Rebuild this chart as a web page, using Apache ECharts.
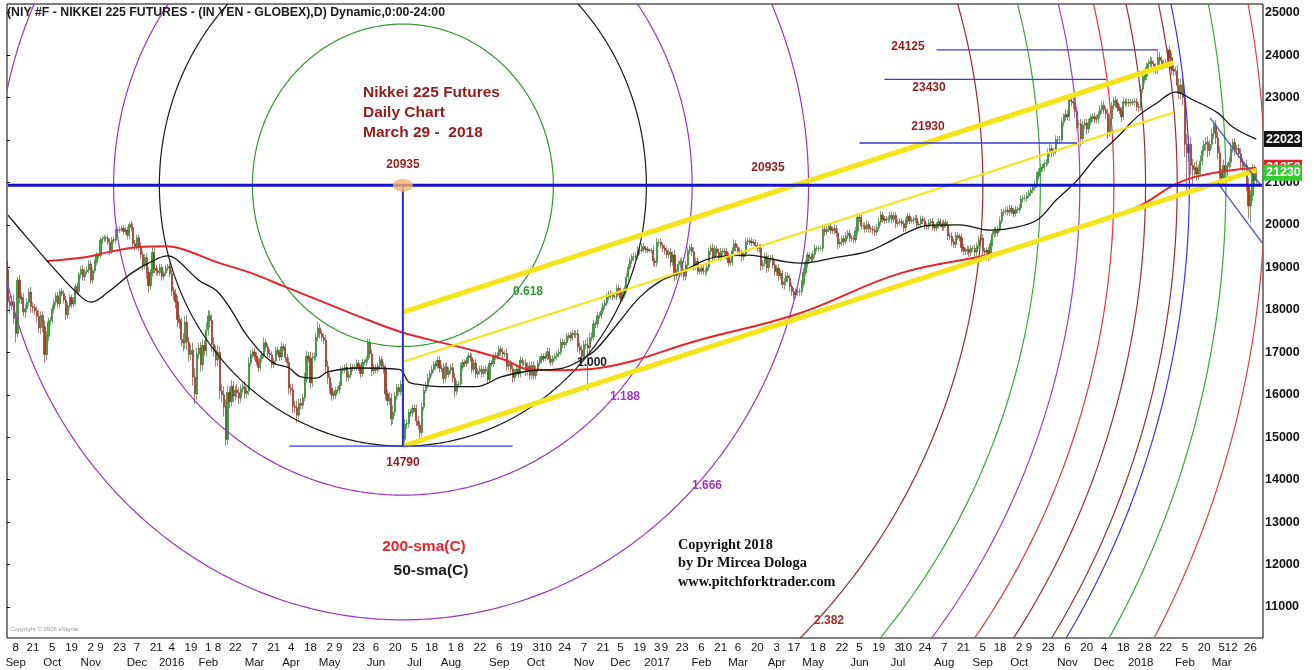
<!DOCTYPE html>
<html><head><meta charset="utf-8">
<script src="https://cdn.jsdelivr.net/npm/echarts/dist/echarts.min.js"></script>
<style>html,body{margin:0;padding:0;background:#fff}#c{width:1314px;height:670px}</style>
</head><body><div id="c"></div>
<script>
// ---------------- calendar ----------------
const START_DAY = '2015-09-01', END_DAY = '2018-04-04';
const HOLIDAYS = ['2015-09-07','2015-11-26','2015-12-25','2016-01-01','2016-01-18','2016-02-15','2016-03-25','2016-05-30','2016-07-04','2016-09-05','2016-11-24','2016-12-26','2017-01-02','2017-01-16','2017-02-20','2017-04-14','2017-05-29','2017-07-04','2017-09-04','2017-11-23','2017-12-25','2018-01-01','2018-01-15','2018-02-19','2018-03-30'];

// ---------------- daily closes (yen), one row per month ----------------
const OPEN_FIRST = 18950;
const CLOSE_2015 = [
 [18200,18100,18180,17800,17450,18700,18300,18250,17950,18030,18180,18420,18080,18050,17980,17850,17580,17870,17600,16950,17380],
 [17720,17750,18020,18180,18330,18140,18430,18380,18230,17880,18100,18290,18140,18200,18550,18430,18830,18950,18780,18900,18940,19080],
 [18700,18920,19120,19270,19280,19640,19670,19700,19690,19590,19390,19650,19640,19860,19880,19900,19920,19850,19880,19750],
 [20010,19940,19560,19500,19700,19490,19300,19050,19230,18880,18570,18870,19350,18980,18920,18880,19000,18790,18870,18980,19030,18850]
];
const CLOSE_2016 = [
 [18450,18370,18190,17770,17700,17300,17220,17710,17240,16950,17050,16420,16020,16960,17100,16710,17160,17040,17520],
 [17860,17750,17190,17040,16820,17000,16090,16000,15710,14950,16050,15840,16200,15970,16110,16050,15920,16140,16190,16030],
 [16090,16750,16960,17010,16910,16780,16640,16850,16940,17230,17120,16970,16940,16720,16800,17050,17000,16890,17130,17100,16880,16760],
 [16160,16120,15730,15700,15520,15800,15750,15930,16380,16910,16850,16280,16870,16900,17360,17570,17440,17350,17290,16660,16400],
 [16150,16000,15990,16100,16110,16220,16570,16580,16650,16410,16470,16650,16640,16650,16740,16650,16500,16760,16770,16830,17230],
 [16960,16560,16640,16580,16680,16830,16670,16600,16020,15860,15920,15430,15600,15970,16170,16070,16240,14950,15310,15320,15570,15580],
 [15680,15670,15380,15280,15110,15710,16100,16230,16390,16500,16600,16720,16680,16810,16630,16620,16380,16660,16480,16570],
 [16640,16390,16080,16250,16250,16650,16760,16740,16800,16920,16870,16600,16750,16490,16550,16600,16500,16600,16560,16360,16740,16730,16890],
 [16930,16920,17080,17010,16960,16970,16670,16730,16610,16400,16520,16600,16490,16810,16750,16750,16540,16680,16460,16690,16450],
 [16600,16740,16820,16900,16860,16900,17020,16840,16770,16860,16900,16960,17000,17240,17180,17230,17370,17390,17340,17450,17420],
 [17440,17130,17050,16900,17180,17170,17100,17340,17370,17670,17670,17860,17860,17970,18100,18160,18300,18380,18350,18310,18310],
 [18510,18430,18270,18360,18500,18770,19000,19160,19250,19250,19270,19400,19390,19490,19440,19430,19400,19400,19400,19150,19110]
];
const CLOSE_2017 = [
 [19590,19590,19520,19450,19400,19300,19360,19130,19290,18810,18890,19070,19140,18890,18790,19060,19400,19470,19370,19040],
 [19150,18910,18920,18980,18910,18910,19010,19380,19460,19240,19440,19350,19230,19380,19380,19370,19280,19110,19120],
 [19390,19560,19470,19380,19340,19250,19320,19600,19630,19610,19580,19590,19520,19460,19450,19040,19090,19260,18990,19200,19220,19060,18910],
 [18980,18810,18860,18600,18660,18800,18750,18550,18430,18350,18420,18430,18430,18620,18880,19080,19290,19250,19200],
 [19310,19450,19450,19450,19450,19900,19840,19900,19960,19880,19870,19920,19810,19550,19590,19680,19610,19740,19810,19690,19680,19650],
 [19860,20180,20170,19980,19980,19910,20010,19910,19900,19880,19830,19940,20070,20230,20140,20110,20130,20150,20230,20130,20220,20030],
 [20060,20080,20030,19930,20080,20200,20100,20100,20120,20150,20000,20020,20140,20100,19980,19960,20050,20080,19960,19930],
 [19990,20080,20030,19950,20060,20000,19740,19730,19600,19540,19750,19730,19700,19470,19390,19380,19430,19350,19450,19450,19360,19510,19650],
 [19690,19380,19360,19400,19270,19550,19780,19870,19810,19910,20100,20300,20310,20350,20300,20400,20330,20270,20360,20360],
 [20400,20610,20630,20630,20690,20750,20820,20880,20950,21150,21250,21340,21360,21450,21460,21700,21800,21710,21740,22010,22010,22010],
 [22420,22540,22600,22550,22940,22910,22870,22680,22380,22380,22030,22350,22400,22260,22420,22520,22550,22500,22490,22600,22720],
 [22820,22710,22620,22180,22500,22810,22940,22870,22760,22690,22550,22900,22870,22890,22870,22900,22890,22910,22780,22770]
];
const CLOSE_2018 = [
 [23200,23420,23510,23710,23800,23850,23790,23710,23650,23950,23870,23760,23810,23820,24120,23940,23670,23630,23630,23290,23100],
 [23300,23000,21900,21700,21900,21400,21300,21350,21200,21300,21500,21750,21900,21950,21750,21900,22150,22350,22050],
 [21700,21200,21100,21400,21250,21370,21480,21800,21950,21770,21800,21680,21480,21380,21400,20950,20450,20700,21300,21050,21230]
];
// upper / lower wick lengths (tens of yen beyond the candle body)
const HI_2015 = [
 [20,12,15,18,10,8,12,10,14,10,9,8,12,10,8,10,14,9,10,15,12],
 [10,8,9,7,8,10,6,8,9,10,7,8,6,9,7,10,6,8,10,7,8,9],
 [8,6,7,9,5,8,6,7,5,8,9,6,7,5,6,7,5,8,6,7],
 [6,8,10,9,7,8,10,9,8,10,12,9,14,10,8,7,9,8,6,7,5,8]
];
const LO_2015 = [
 [15,18,12,14,22,10,15,12,10,14,9,10,15,12,10,14,12,15,12,20,14],
 [12,9,8,10,8,7,9,6,8,12,9,7,10,8,9,6,7,8,9,10,6,8],
 [9,8,6,7,8,6,9,7,8,6,10,7,6,8,5,7,6,8,7,9],
 [8,9,12,10,8,10,9,12,10,14,16,10,9,12,10,8,7,10,8,6,7,9]
];
const HI_2016 = [
 [10,9,12,14,10,12,15,14,16,12,14,18,20,15,12,14,16,12,18],
 [14,12,15,16,12,18,14,16,20,18,16,14,15,12,10,14,12,10,9,12],
 [10,12,9,8,10,9,8,10,9,12,8,9,10,8,7,9,8,7,10,8,9,8],
 [12,10,14,12,16,10,12,9,14,12,10,16,12,9,10,15,10,8,9,12,14],
 [10,12,8,9,8,10,9,8,7,10,8,9,7,8,9,8,7,9,6,8,9],
 [8,10,9,8,7,9,8,10,12,10,14,12,16,10,9,8,10,10,12,10,9,8],
 [9,8,10,12,10,12,9,8,10,8,9,7,8,9,10,8,12,9,10,8],
 [8,10,12,9,8,10,8,7,9,8,7,10,8,9,7,8,9,7,8,10,8,7,8],
 [8,7,9,8,10,8,12,9,8,10,9,8,9,10,8,7,9,8,10,9,10],
 [8,7,9,8,7,8,9,8,10,7,8,7,8,9,8,7,8,7,9,8,7],
 [8,10,9,12,10,12,18,12,10,9,8,10,8,9,7,8,9,7,8,6,8],
 [9,8,10,7,8,10,9,8,7,9,8,10,7,8,9,7,6,5,6,10,8]
];
const LO_2016 = [
 [12,14,16,18,14,16,20,14,18,16,14,20,24,14,12,16,14,12,14],
 [12,16,18,14,16,14,20,18,22,16,14,16,12,14,10,12,14,10,9,12],
 [12,10,9,10,8,9,10,8,9,8,10,9,8,10,9,8,7,9,8,7,10,9],
 [14,12,16,14,18,12,10,9,8,10,9,14,10,8,9,10,12,9,10,16,14],
 [12,14,10,9,8,9,10,8,7,10,9,8,9,7,8,9,10,8,7,9,8],
 [10,12,9,8,7,9,8,10,14,12,10,16,12,10,9,8,9,16,14,12,10,9],
 [10,8,12,10,14,9,8,7,8,9,7,8,9,7,10,8,12,9,10,8],
 [9,10,14,9,8,7,8,9,7,8,9,10,8,10,9,8,9,8,7,10,8,7,8],
 [8,9,7,8,9,8,10,9,8,12,9,8,10,8,9,7,10,8,10,9,10],
 [9,8,7,8,9,7,8,10,9,8,7,8,9,7,8,9,7,8,9,7,8],
 [9,12,10,12,9,10,100,10,9,8,10,9,8,7,8,9,7,8,9,8,7],
 [8,9,10,8,7,8,9,7,8,9,7,8,9,7,8,9,6,5,7,12,10]
];
const HI_2017 = [
 [10,8,9,7,8,9,8,10,9,12,8,9,7,10,8,9,8,7,9,10],
 [8,9,7,8,9,7,8,9,8,10,8,7,9,8,7,8,9,7,8],
 [9,10,8,7,9,8,7,9,8,7,9,8,7,8,9,10,8,9,8,9,7,8,9],
 [8,10,9,8,9,10,8,9,8,9,8,7,8,9,10,9,8,7,8],
 [8,9,6,5,6,10,8,9,8,7,8,9,8,10,8,7,8,9,7,8,7,8],
 [9,10,8,7,8,7,9,8,7,8,9,8,9,10,8,7,8,7,9,8,7,8],
 [7,8,7,8,9,8,7,8,7,8,9,7,8,7,8,7,8,7,8,7],
 [7,8,7,8,7,8,10,8,9,8,9,8,7,9,8,7,8,7,8,7,9,8,9],
 [8,9,8,7,9,10,8,9,8,7,9,8,7,8,9,8,7,8,9,8],
 [9,8,7,8,9,8,7,8,9,10,8,9,8,7,9,10,12,9,8,10,9,8],
 [10,9,12,10,14,12,16,12,10,9,12,10,9,10,8,9,8,10,9,8,10],
 [9,10,8,12,10,9,8,9,10,8,9,10,8,9,8,7,6,7,8,9]
];
const LO_2017 = [
 [9,10,8,9,10,8,9,12,10,14,10,8,9,12,10,9,8,9,10,12],
 [10,9,8,9,8,9,10,8,9,10,9,8,9,8,9,8,10,9,8],
 [8,9,10,8,9,10,8,7,8,9,8,7,8,9,10,12,9,8,12,9,8,9,10],
 [10,12,9,10,12,9,10,12,10,9,8,9,10,8,9,8,9,10,8],
 [9,8,7,6,5,9,10,8,7,9,8,9,10,12,9,8,9,7,8,9,8,9],
 [8,9,10,9,8,9,8,9,8,10,9,8,7,8,9,8,7,9,8,9,8,10],
 [8,7,8,9,8,7,8,7,8,7,9,8,7,8,9,8,7,8,9,8],
 [8,7,8,9,8,7,10,9,10,8,9,8,9,12,10,9,8,10,9,8,10,9,8],
 [9,10,9,8,12,8,7,8,9,8,7,8,9,7,8,9,8,9,7,8],
 [8,7,8,7,8,7,8,7,8,7,8,7,8,9,8,7,9,12,9,8,10,9],
 [9,10,8,9,10,12,14,16,12,10,18,12,10,12,9,8,9,10,9,10,9],
 [10,9,12,16,10,8,9,10,9,8,12,8,9,8,9,8,7,8,9,10]
];
const HI_2018 = [
 [10,12,14,12,10,12,10,9,10,14,12,10,9,10,4,10,12,10,9,14,16],
 [14,16,20,24,18,16,15,14,16,12,14,12,10,12,14,10,12,8,12],
 [14,16,12,14,12,10,12,14,8,10,9,10,12,10,9,14,16,12,14,12,10]
];
const LO_2018 = [
 [8,10,9,10,12,9,10,12,9,10,12,10,9,10,12,10,14,12,10,20,14],
 [14,18,30,100,20,22,40,18,16,14,12,10,12,14,16,12,10,12,14],
 [16,18,20,14,16,12,10,12,10,14,12,10,14,12,10,16,30,40,14,16,12]
];

// ---------------- moving averages ----------------
const SMA50 = [['2015-09-01',20230],['2015-09-15',19750],['2015-10-01',19120],['2015-10-22',18390],['2015-11-02',18180],['2015-11-13',18420],['2015-12-02',18860],['2015-12-15',19100],['2015-12-30',19270],['2016-01-07',19170],['2016-01-25',18700],['2016-02-05',18460],['2016-02-18',17990],['2016-03-01',17400],['2016-03-18',16770],['2016-04-01',16630],['2016-04-11',16420],['2016-04-21',16390],['2016-04-29',16540],['2016-05-23',16630],['2016-06-22',16600],['2016-06-29',16300],['2016-07-06',16250],['2016-07-22',16190],['2016-08-18',16190],['2016-09-07',16420],['2016-09-27',16560],['2016-10-21',16630],['2016-11-10',16950],['2016-11-17',17150],['2016-12-02',17700],['2016-12-19',18300],['2017-01-04',18660],['2017-01-19',18860],['2017-02-16',19250],['2017-03-14',19290],['2017-03-27',19220],['2017-04-10',19130],['2017-04-21',19100],['2017-05-15',19220],['2017-06-09',19370],['2017-06-23',19570],['2017-07-12',19850],['2017-07-26',19990],['2017-08-17',20000],['2017-09-11',19880],['2017-09-25',19920],['2017-10-13',20110],['2017-10-27',20580],['2017-11-13',21050],['2017-11-28',21600],['2017-12-13',22070],['2017-12-28',22540],['2018-01-16',22890],['2018-01-29',23130],['2018-02-09',22950],['2018-03-01',22640],['2018-03-13',22300],['2018-03-29',22023]];
const SMA200 = [['2015-09-30',19150],['2015-10-28',19240],['2015-11-13',19360],['2015-12-08',19480],['2015-12-29',19500],['2016-01-13',19410],['2016-02-05',19130],['2016-03-03',18870],['2016-03-30',18540],['2016-04-29',18140],['2016-05-31',17760],['2016-06-23',17480],['2016-07-22',17240],['2016-08-16',17050],['2016-09-09',16820],['2016-09-27',16600],['2016-10-21',16580],['2016-11-17',16630],['2017-02-03',17290],['2017-04-20',17920],['2017-07-05',18860],['2017-09-15',19350],['2017-11-07',19880],['2017-12-28',20420],['2018-01-30',20980],['2018-02-26',21220],['2018-03-29',21350]];

// ---------------- drawing annotations (date, price) ----------------
const PIVOT = ['2016-06-24', 20935];
const ARC_RATIOS = [0.618, 1.0, 1.188, 1.666, 2.382, 2.618, 2.78, 2.92, 3.05, 3.18, 3.23, 3.38, 3.54];
const ARC_BASE_PRICE = 6145;   // 20935 - 14790
const ARC_BASE_BARS = 126.4;   // horizontal radius of the 1.000 circle, in bars
const FORK_LOW   = [['2016-06-24',14790],['2018-03-29',21294]];
const FORK_MID   = [['2016-06-24',16778],['2018-01-26',22650]];
const FORK_HIGH  = [['2016-06-24',17949],['2018-01-26',23821]];
const H_20935 = [['2015-09-01',20935],['2018-04-04',20935]];
const V_PIVOT = [['2016-06-24',20935],['2016-06-24',14790]];
const H_14790 = [['2016-04-01',14790],['2016-09-15',14790]];
const H_24125 = [['2017-08-01',24125],['2018-01-16',24125]];
const H_23430 = [['2017-06-22',23430],['2017-12-05',23430]];
const H_21930 = [['2017-06-05',21930],['2017-11-13',21930]];
const CH_UP = [['2018-02-23',22520],['2018-04-04',20898]];
const CH_DN = [['2018-03-01',20988],['2018-04-04',19583]];
const LAST_LABELS = [[22023,'22023'],[21350,'21350'],[21230,'21230']];

// ---------------- axis tick labels ----------------
const TICK_DATES = ['2015-09-08','2015-09-21','2015-10-05','2015-10-19','2015-11-02','2015-11-09','2015-11-23','2015-12-07','2015-12-21','2016-01-04','2016-01-19','2016-02-01','2016-02-08','2016-02-22','2016-03-07','2016-03-21','2016-04-04','2016-04-18','2016-05-02','2016-05-09','2016-05-23','2016-06-06','2016-06-20','2016-07-05','2016-07-18','2016-08-01','2016-08-08','2016-08-22','2016-09-06','2016-09-19','2016-10-03','2016-10-10','2016-10-24','2016-11-07','2016-11-21','2016-12-05','2016-12-19','2017-01-03','2017-01-09','2017-01-23','2017-02-06','2017-02-21','2017-03-06','2017-03-20','2017-04-03','2017-04-17','2017-05-01','2017-05-08','2017-05-22','2017-06-05','2017-06-19','2017-07-03','2017-07-10','2017-07-24','2017-08-07','2017-08-21','2017-09-05','2017-09-18','2017-10-02','2017-10-09','2017-10-23','2017-11-06','2017-11-20','2017-12-04','2017-12-18','2018-01-02','2018-01-08','2018-01-22','2018-02-05','2018-02-20','2018-03-05','2018-03-12','2018-03-26'];
const MONTH_DATES = ['2015-09-08','2015-10-05','2015-11-02','2015-12-07','2016-01-04','2016-02-01','2016-03-07','2016-04-04','2016-05-02','2016-06-06','2016-07-05','2016-08-01','2016-09-06','2016-10-03','2016-11-07','2016-12-05','2017-01-03','2017-02-06','2017-03-06','2017-04-03','2017-05-01','2017-06-05','2017-07-03','2017-08-07','2017-09-05','2017-10-02','2017-11-06','2017-12-04','2018-01-02','2018-02-05','2018-03-05'];
const MONTH_NAMES = ['Sep','Oct','Nov','Dec','2016','Feb','Mar','Apr','May','Jun','Jul','Aug','Sep','Oct','Nov','Dec','2017','Feb','Mar','Apr','May','Jun','Jul','Aug','Sep','Oct','Nov','Dec','2018','Feb','Mar'];

// ================= build =================
function pad(n){return (n<10?'0':'')+n;}
function tradingDays(a,b){
  const out=[]; const hs=new Set(HOLIDAYS);
  let d=new Date(a+'T00:00:00Z'); const e=new Date(b+'T00:00:00Z');
  while(d<=e){const w=d.getUTCDay(); const s=d.getUTCFullYear()+'-'+pad(d.getUTCMonth()+1)+'-'+pad(d.getUTCDate());
    if(w!==0&&w!==6&&!hs.has(s)) out.push(s); d=new Date(d.getTime()+86400000);}
  return out;
}
const DAYS = tradingDays(START_DAY, END_DAY);
const monthIdx = {}; DAYS.forEach((d,i)=>{const k=d.slice(0,7);(monthIdx[k]=monthIdx[k]||[]).push(i);});
const closeA=[],hiA=[],loA=[];
[[2015,9,CLOSE_2015,HI_2015,LO_2015],[2016,1,CLOSE_2016,HI_2016,LO_2016],[2017,1,CLOSE_2017,HI_2017,LO_2017],[2018,1,CLOSE_2018,HI_2018,LO_2018]]
.forEach(([y,m0,C,H,L])=>C.forEach((vals,mi)=>{
  const idx=monthIdx[y+'-'+pad(m0+mi)]||[];
  vals.forEach((v,j)=>{ if(j<idx.length){closeA[idx[j]]=v;hiA[idx[j]]=H[mi][j]||0;loA[idx[j]]=L[mi][j]||0;} });
}));
let prev=OPEN_FIRST;
const candles = DAYS.map((d,i)=>{const c=closeA[i]; if(c==null) return '-'; const o=prev; prev=c;
  return [o,c,Math.min(o,c)-loA[i]*10,Math.max(o,c)+hiA[i]*10];});

const TICK_SET=new Set(TICK_DATES);
const MONTH_MAP=new Map(MONTH_DATES.map((d,i)=>[d,MONTH_NAMES[i]]));
const ARC_COLORS=['#2f9a2f','#1a1a1a','#9b35c0','#9b35c0','#9a2b2b','#3aa83a','#a040c0','#e03a3a','#9a3030','#9a3030','#3838e0','#3aa83a','#e04040'];
const BOX_COLORS=['#111111','#e02020','#33cc33'];

const F='Liberation Sans, Arial, sans-serif';
const SERIF='Liberation Serif, Times New Roman, serif';
function seg(data,color,width,z){return {type:'line',data:data,symbol:'none',silent:true,z:z||4,lineStyle:{color:color,width:width},xAxisIndex:0,yAxisIndex:0,animation:false};}

const chart=echarts.init(document.getElementById('c'));
chart.setOption({
  animation:false, backgroundColor:'#ffffff',
  grid:[{left:7,right:51,top:4,bottom:32,show:true,borderColor:'#000',borderWidth:1,backgroundColor:'rgba(0,0,0,0)'},
        {left:7,right:51,top:12.7,bottom:63,show:false}],
  xAxis:[
    {type:'category',gridIndex:0,data:DAYS,boundaryGap:true,axisLine:{show:false},axisTick:{show:false},splitLine:{show:false},
     axisLabel:{interval:(i,v)=>TICK_SET.has(v),formatter:v=>String(+v.slice(8)),margin:4,fontSize:11.5,color:'#111',fontFamily:F}},
    {type:'category',gridIndex:0,data:DAYS,position:'bottom',boundaryGap:true,axisLine:{show:false},axisTick:{show:false},splitLine:{show:false},
     axisLabel:{interval:(i,v)=>MONTH_MAP.has(v),formatter:v=>MONTH_MAP.get(v)||'',margin:19,fontSize:11.5,color:'#111',fontFamily:F}},
    {type:'value',gridIndex:1,show:false,min:0,max:1}
  ],
  yAxis:[
    {type:'value',gridIndex:0,min:10270,max:25205,show:false,splitLine:{show:false}},
    {type:'value',gridIndex:1,position:'right',min:11000,max:25000,interval:1000,axisLine:{show:false},
     axisTick:{show:true,length:3,lineStyle:{color:'#000'}},splitLine:{show:false},
     axisLabel:{margin:2,fontSize:12.5,fontWeight:'bold',color:'#111',fontFamily:F,formatter:v=>String(v)}}
  ],
  series:[
    {type:'candlestick',data:candles,xAxisIndex:0,yAxisIndex:0,barWidth:1.7,large:false,silent:true,z:2,
     itemStyle:{color:'#2fae2f',color0:'#d22e1c',borderColor:'#1f6a1f',borderColor0:'#7a2416',borderWidth:0.6}},
    {type:'line',xAxisIndex:2,yAxisIndex:1,data:[],silent:true},
    {type:'custom',xAxisIndex:0,yAxisIndex:0,clip:true,silent:true,z:3,
     data:ARC_RATIOS.map(r=>[PIVOT[0],PIVOT[1],r]),encode:{x:0,y:1},
     renderItem:(params,api)=>{
       const r=api.value(2); const c=api.coord([api.value(0),api.value(1)]);
       const b=api.coord([api.value(0),api.value(1)-ARC_BASE_PRICE*r]);
       const ry=b[1]-c[1]; const rx=ARC_BASE_BARS*r*api.size([1,0])[0];
       const pts=[]; for(let k=0;k<=720;k++){const t=k*Math.PI/360; pts.push([c[0]+rx*Math.cos(t),c[1]+ry*Math.sin(t)]);}
       return {type:'polyline',shape:{points:pts},style:{stroke:ARC_COLORS[params.dataIndex],lineWidth:1.2,fill:null}};
     }},
    Object.assign(seg(SMA200,'#e8262a',2,3),{smooth:0.4}),
    Object.assign(seg(SMA50,'#151515',1.3,3),{smooth:0.4}),
    seg(FORK_LOW,'#f7e418',5),
    seg(FORK_HIGH,'#f7e418',5),
    seg(FORK_MID,'#f7e418',2),
    seg(V_PIVOT,'#2b2bd8',2,5),
    seg(H_14790,'#3a3ae0',1.4,5),
    seg(H_24125,'#3a3ae0',1.4,5),
    seg(H_23430,'#3a3ae0',1.4,5),
    seg(H_21930,'#3a3ae0',1.4,5),
    seg(CH_UP,'#4a4ae0',1.3,5),
    seg(CH_DN,'#4a4ae0',1.3,5),
    seg(H_20935,'#1414cc',3,6),
    {type:'scatter',data:[PIVOT],xAxisIndex:0,yAxisIndex:0,symbol:'circle',symbolSize:[20,13],silent:true,z:7,
     itemStyle:{color:'#f6b46c'}}
  ]
});

const yp=v=>chart.convertToPixel({yAxisIndex:0},v);
function txt(x,y,t,font,fill,align,z){return {type:'text',x:x,y:y,z:z||100,style:{text:t,font:font,fill:fill,textAlign:align||'center',textVerticalAlign:'middle',align:align||'center',verticalAlign:'middle'}};}
const DR='#941c1c';
const g=[
  txt(7,13,'(NIY #F - NIKKEI 225 FUTURES - (IN YEN - GLOBEX),D) Dynamic,0:00-24:00','bold 12.3px '+F,'#1a1a1a','left'),
  txt(363,93,'Nikkei 225 Futures','bold 15.5px '+F,DR,'left'),
  txt(363,113,'Daily Chart','bold 15.5px '+F,DR,'left'),
  txt(363,133,'March 29 -  2018','bold 15.5px '+F,DR,'left'),
  txt(403,165,'20935','bold 12px '+F,DR),
  txt(403,463,'14790','bold 12px '+F,DR),
  txt(768,168,'20935','bold 12px '+F,DR),
  txt(908,47,'24125','bold 12px '+F,DR),
  txt(929,88,'23430','bold 12px '+F,DR),
  txt(928,127,'21930','bold 12px '+F,DR),
  txt(528,292,'0.618','bold 12px '+F,'#2f9a2f'),
  txt(592,363,'1.000','bold 12px '+F,'#1a1a1a'),
  txt(625,397,'1.188','bold 12px '+F,'#9b35c0'),
  txt(707,486,'1.666','bold 12px '+F,'#9b35c0'),
  txt(829,621,'2.382','bold 12px '+F,'#a0302a'),
  txt(424,547,'200-sma(C)','bold 15.5px '+F,'#e02828'),
  txt(431,571,'50-sma(C)','bold 15.5px '+F,'#1a1a1a'),
  txt(678,545,'Copyright 2018','bold 14.3px '+SERIF,'#111','left'),
  txt(678,563,'by Dr Mircea Dologa','bold 14.3px '+SERIF,'#111','left'),
  txt(678,582,'www.pitchforktrader.com','bold 14.3px '+SERIF,'#111','left'),
  txt(10,629,'Copyright \u00a9 2006 eSignal','6px '+F,'#9a9a9a','left')
];
LAST_LABELS.forEach(([v,label],i)=>{const y=yp(v);
  g.push({type:'rect',z:110+2*i,shape:{x:1264,y:y-8,width:38,height:16},style:{fill:BOX_COLORS[i]}});
  g.push(txt(1266,y,label,'bold 12.5px '+F,'#ffffff','left',111+2*i));});
chart.setOption({graphic:g});
</script></body></html>
